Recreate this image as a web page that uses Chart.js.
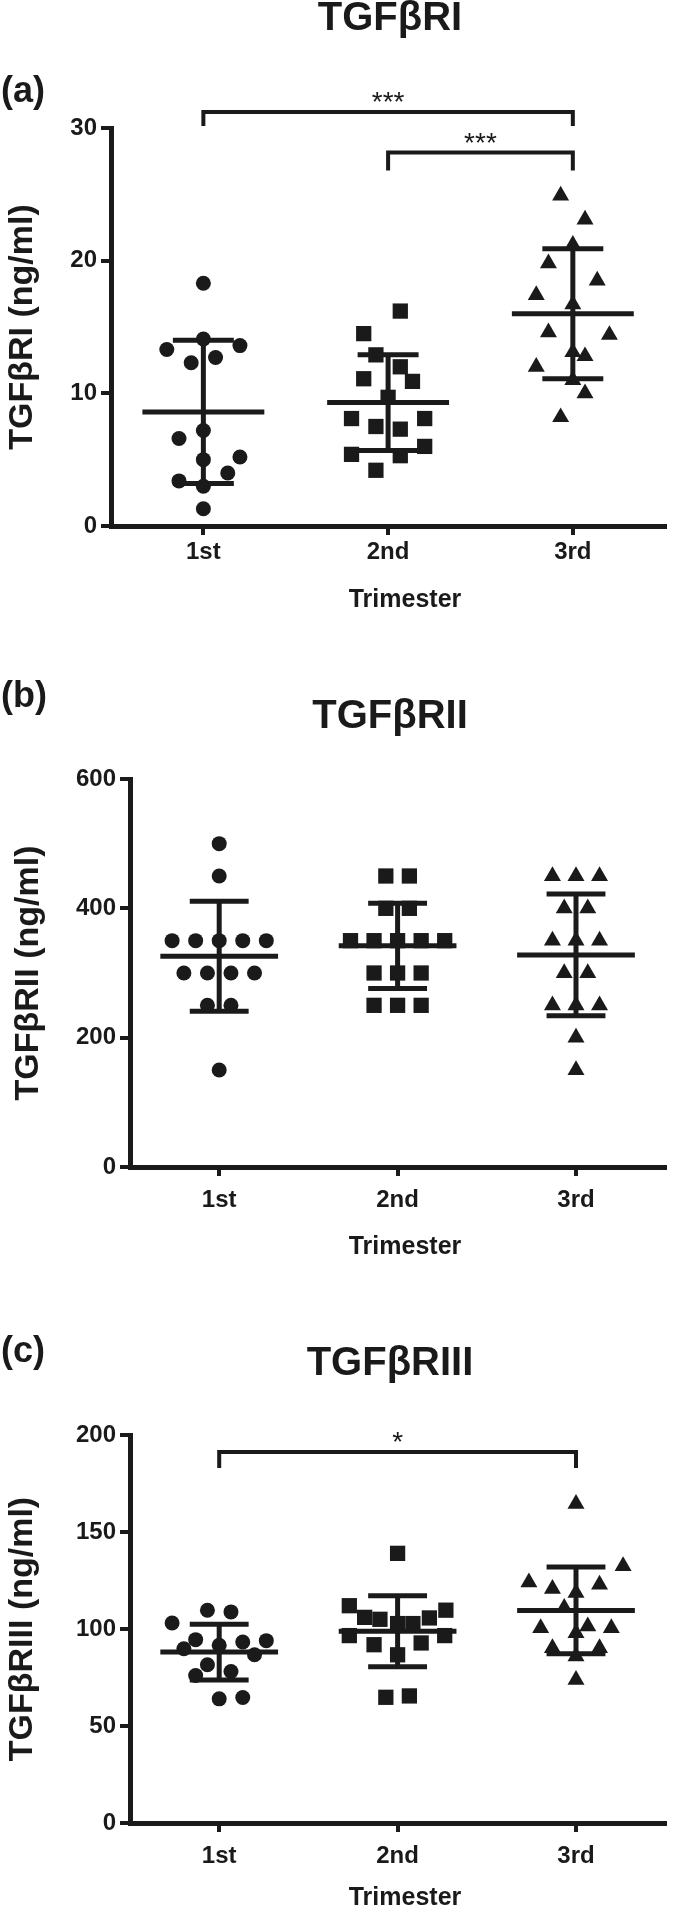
<!DOCTYPE html>
<html>
<head>
<meta charset="utf-8">
<script src="https://cdn.jsdelivr.net/npm/chart.js@4.4.1/dist/chart.umd.min.js"></script>
<style>
  html, body { margin: 0; padding: 0; background: #fff; }
  canvas { display: block; }
</style>
</head>
<body>
<canvas id="chartA" width="676" height="650"></canvas>
<canvas id="chartB" width="676" height="640"></canvas>
<canvas id="chartC" width="676" height="623"></canvas>
<script>
// categories
const trimesters = ['1st', '2nd', '3rd'];

// (a) TGFβRI, ng/ml ; slot = horizontal scatter column of each point
const r1First = [18.3, 14.1, 13.3, 13.6, 12.3, 12.7, 7.2, 6.6, 5.0, 5.2, 4.0, 3.4, 3.0, 1.3];
const r1FirstSlot = [0, 0, -3, 3, -1, 1, 0, -2, 0, 3, 2, -2, 0, 0];
const r1Second = [16.2, 14.5, 12.9, 12.0, 11.1, 10.9, 9.7, 8.1, 8.1, 7.5, 7.3, 6.0, 5.4, 5.3, 4.2];
const r1SecondSlot = [1, -2, -1, 1, -2, 2, 0, -3, 3, -1, 1, 3, -3, 1, -1];
const r1Third = [24.9, 23.1, 21.2, 19.8, 18.5, 17.4, 16.7, 14.6, 14.4, 13.1, 12.8, 12.0, 11.0, 10.0, 8.2];
const r1ThirdSlot = [-1, 1, 0, -2, 2, -3, 0, -2, 3, 0, 1, -3, 0, 1, -1];
const r1Mean = [8.6, 9.3, 16.0];
const r1Sd = [5.4, 3.6, 4.9];
const r1Ticks = [0, 10, 20, 30];
// [from, to, line y, tip y, label]
const r1Brackets = [[1, 3, 31.2, 30.15, '***'], [2, 3, 28.15, 26.8, '***']];

// (b) TGFβRII, ng/ml
const r2First = [500, 450, 350, 350, 350, 350, 350, 300, 300, 300, 300, 250, 250, 150];
const r2FirstSlot = [0, 0, -4, -2, 0, 2, 4, -3, -1, 1, 3, -1, 1, 0];
const r2Second = [450, 450, 400, 400, 350, 350, 350, 350, 350, 300, 300, 300, 250, 250, 250];
const r2SecondSlot = [-1, 1, -1, 1, -4, -2, 0, 2, 4, -2, 0, 2, -2, 0, 2];
const r2Third = [450, 450, 450, 400, 400, 350, 350, 350, 300, 300, 250, 250, 250, 200, 150];
const r2ThirdSlot = [-2, 0, 2, -1, 1, -2, 0, 2, -1, 1, -2, 0, 2, 0, 0];
const r2Mean = [326, 342, 328];
const r2Sd = [85, 66, 94];
const r2Ticks = [0, 200, 400, 600];
const r2Brackets = [];

// (c) TGFβRIII, ng/ml
const r3First = [109.7, 108.8, 103.1, 94.0, 94.5, 93.3, 91.6, 89.8, 86.7, 81.6, 78.1, 76.0, 64.0, 64.7];
const r3FirstSlot = [-1, 1, -4, 4, -2, 2, 0, -3, 3, -1, 1, -2, 0, 2];
const r3Second = [139, 112, 109.7, 106, 105, 102.8, 102.8, 105.7, 96.6, 96.6, 91.9, 92.8, 86.7, 64.8, 65.5];
const r3SecondSlot = [0, -4.1, 4.1, -2.8, -1.5, 0, 1.3, 2.7, -4.1, 4, -2, 2, 0, -1, 1];
const r3Third = [164.5, 132.4, 124.1, 120.7, 122.9, 118.6, 110.9, 100.5, 101.4, 100.5, 97.9, 90.2, 90.2, 85.9, 73.8];
const r3ThirdSlot = [0, 4, -4, -2, 2, 0, -1, -3, 1, 3, 0, -2, 2, 0, 0];
const r3Mean = [88.1, 98.8, 109.6];
const r3Sd = [14.4, 18.3, 22.3];
const r3Ticks = [0, 50, 100, 150, 200];
const r3Brackets = [[1, 3, 191.2, 183, '*']];

const INK = '#1a1a1a';
const FONT = "'Liberation Sans', Arial, Helvetica, sans-serif";
const SLOT = 0.066;

function points(values, slots, cat) {
    return values.map((v, i) => ({ x: cat + slots[i] * SLOT, y: v }));
}

function strokeLine(ctx, x1, y1, x2, y2) {
    ctx.beginPath();
    ctx.moveTo(x1, y1);
    ctx.lineTo(x2, y2);
    ctx.stroke();
}

// mean / SD bars, significance brackets and the loose text
const decorPlugin = {
    id: 'decor',
    afterDatasetsDraw(chart, args, opts) {
        const { ctx, chartArea } = chart;
        const x = chart.scales.x, y = chart.scales.y;
        ctx.save();
        ctx.strokeStyle = INK;
        ctx.fillStyle = INK;
        ctx.lineCap = 'butt';

        opts.means.forEach((m, i) => {
            const c = i + 1;
            const sd = opts.sds[i];
            ctx.lineWidth = 5;
            strokeLine(ctx, x.getPixelForValue(c - 0.33), y.getPixelForValue(m), x.getPixelForValue(c + 0.33), y.getPixelForValue(m));
            strokeLine(ctx, x.getPixelForValue(c), y.getPixelForValue(m + sd), x.getPixelForValue(c), y.getPixelForValue(m - sd));
            strokeLine(ctx, x.getPixelForValue(c - 0.165), y.getPixelForValue(m + sd), x.getPixelForValue(c + 0.165), y.getPixelForValue(m + sd));
            strokeLine(ctx, x.getPixelForValue(c - 0.165), y.getPixelForValue(m - sd), x.getPixelForValue(c + 0.165), y.getPixelForValue(m - sd));
        });

        opts.brackets.forEach(b => {
            const x1 = x.getPixelForValue(b[0]), x2 = x.getPixelForValue(b[1]);
            const yl = y.getPixelForValue(b[2]), yt = y.getPixelForValue(b[3]);
            ctx.lineWidth = 4;
            ctx.beginPath();
            ctx.moveTo(x1, yt);
            ctx.lineTo(x1, yl);
            ctx.lineTo(x2, yl);
            ctx.lineTo(x2, yt);
            ctx.stroke();
            ctx.font = '28px ' + FONT;
            ctx.textAlign = 'center';
            ctx.textBaseline = 'alphabetic';
            ctx.fillText(b[4], (x1 + x2) / 2, yl - 1);
        });

        ctx.textBaseline = 'middle';
        ctx.textAlign = 'left';
        ctx.font = 'bold 36px ' + FONT;
        ctx.fillText(opts.letter, 1, opts.letterY);
        ctx.textAlign = 'center';
        ctx.font = 'bold 40px ' + FONT;
        ctx.fillText(opts.title, 390, opts.titleY);
        ctx.font = 'bold 25px ' + FONT;
        ctx.fillText('Trimester', 405, opts.trimY);
        ctx.restore();
    }
};

function makePanel(id, p) {
    const style = [
        { pointStyle: 'circle', pointRadius: 7.5 },
        { pointStyle: 'rect', pointRadius: 10.8 },
        { pointStyle: 'triangle', pointRadius: 9.8 }
    ];
    const sets = [p.first, p.second, p.third];
    const slots = [p.firstSlot, p.secondSlot, p.thirdSlot];
    return new Chart(document.getElementById(id), {
        type: 'scatter',
        data: {
            datasets: sets.map((vals, i) => ({
                label: trimesters[i],
                data: points(vals, slots[i], i + 1),
                pointStyle: style[i].pointStyle,
                pointRadius: style[i].pointRadius,
                pointBackgroundColor: INK,
                pointBorderWidth: 0,
                clip: false
            }))
        },
        options: {
            responsive: false,
            animation: false,
            layout: { padding: { top: p.padTop, right: 6, bottom: p.padBottom, left: 0 } },
            plugins: {
                legend: { display: false },
                tooltip: { enabled: false },
                decor: {
                    means: p.means, sds: p.sds, brackets: p.brackets,
                    letter: p.letter, letterY: p.letterY,
                    title: p.title, titleY: p.titleY, trimY: p.trimY
                }
            },
            scales: {
                x: {
                    type: 'linear',
                    min: 0.5,
                    max: 3.5,
                    afterBuildTicks: ax => { ax.ticks = [1, 2, 3].map(v => ({ value: v })); },
                    afterFit: s => { s.height = p.xAxisH; },
                    ticks: {
                        autoSkip: false,
                        maxRotation: 0,
                        padding: p.tickPad,
                        color: INK,
                        font: { family: FONT, size: 24, weight: 'bold' },
                        callback: (v, i) => trimesters[i]
                    },
                    grid: { drawOnChartArea: false, tickLength: 9, lineWidth: 4, color: INK },
                    border: { width: 5, color: INK }
                },
                y: {
                    min: p.ticks[0],
                    max: p.ticks[p.ticks.length - 1],
                    afterBuildTicks: ax => { ax.ticks = p.ticks.map(v => ({ value: v })); },
                    afterFit: s => { s.width = p.yAxisW; },
                    ticks: {
                        padding: 4,
                        color: INK,
                        font: { family: FONT, size: 24, weight: 'bold' }
                    },
                    title: {
                        display: true,
                        text: p.yTitle,
                        color: INK,
                        font: { family: FONT, size: 34, weight: 'bold' },
                        padding: { top: p.yTitlePad, bottom: 0 }
                    },
                    grid: { drawOnChartArea: false, tickLength: 10, lineWidth: 4, color: INK },
                    border: { width: 5, color: INK }
                }
            }
        },
        plugins: [decorPlugin]
    });
}

makePanel('chartA', {
    first: r1First, firstSlot: r1FirstSlot, second: r1Second, secondSlot: r1SecondSlot,
    third: r1Third, thirdSlot: r1ThirdSlot, means: r1Mean, sds: r1Sd, ticks: r1Ticks, brackets: r1Brackets,
    letter: '(a)', letterY: 92, title: 'TGFβRI', titleY: 19, trimY: 600,
    yTitle: 'TGFβRI (ng/ml)', yTitlePad: 2,
    padTop: 128, padBottom: 24, xAxisH: 100, yAxisW: 111, tickPad: 3
});

makePanel('chartB', {
    first: r2First, firstSlot: r2FirstSlot, second: r2Second, secondSlot: r2SecondSlot,
    third: r2Third, thirdSlot: r2ThirdSlot, means: r2Mean, sds: r2Sd, ticks: r2Ticks, brackets: r2Brackets,
    letter: '(b)', letterY: 47, title: 'TGFβRII', titleY: 67, trimY: 597,
    yTitle: 'TGFβRII (ng/ml)', yTitlePad: 8,
    padTop: 129, padBottom: 23, xAxisH: 100, yAxisW: 130, tickPad: 10
});

makePanel('chartC', {
    first: r3First, firstSlot: r3FirstSlot, second: r3Second, secondSlot: r3SecondSlot,
    third: r3Third, thirdSlot: r3ThirdSlot, means: r3Mean, sds: r3Sd, ticks: r3Ticks, brackets: r3Brackets,
    letter: '(c)', letterY: 62, title: 'TGFβRIII', titleY: 74, trimY: 608,
    yTitle: 'TGFβRIII (ng/ml)', yTitlePad: 2,
    padTop: 145, padBottom: 0, xAxisH: 90, yAxisW: 130, tickPad: 10
});
</script>
</body>
</html>
